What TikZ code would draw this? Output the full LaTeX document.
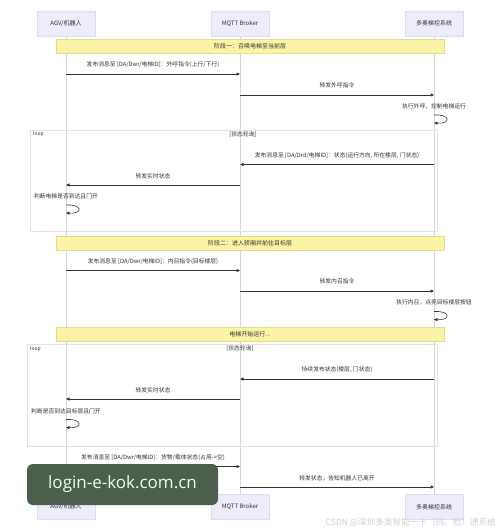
\documentclass[tikz,border=0pt]{standalone}
\usepackage{fontspec}
\newfontfamily\cjk{Noto Sans CJK SC}
\usetikzlibrary{arrows.meta}
\definecolor{txt}{HTML}{333333}
\definecolor{life}{HTML}{D6D6D6}
\definecolor{actfill}{HTML}{ECECFB}
\definecolor{actline}{HTML}{DCDCF2}
\definecolor{notefill}{HTML}{FBF4A6}
\definecolor{noteline}{HTML}{E6DE86}
\definecolor{loopline}{HTML}{E2E2E2}
\definecolor{wmfill}{HTML}{4C5F4C}
\tikzset{
  actor/.style={draw=actline,fill=actfill,minimum width=58pt,minimum height=25pt,inner sep=0pt,font=\cjk\fontsize{6}{7}\selectfont,text=txt},
  notebox/.style={draw=noteline,fill=notefill,minimum width=388pt,minimum height=14pt,inner sep=0pt,font=\cjk\fontsize{6}{7}\selectfont,text=txt},
  lbl/.style={font=\cjk\fontsize{5.8}{7}\selectfont,text=txt,inner sep=0pt},
  msg/.style={draw=txt,line width=0.6pt,-{Triangle[length=3.5pt,width=3pt]}},
  lifeline/.style={draw=life,line width=0.5pt},
  loopbox/.style={draw=loopline,line width=0.5pt},
}
\begin{document}
\begin{tikzpicture}[x=1pt,y=-1pt]
\useasboundingbox[fill=white] (0,0) rectangle (500,531);
% actors
\node[actor] (agvT) at (66,23.5) {AGV/机器人};
\node[actor] (brkT) at (240,23.5) {MQTT Broker};
\node[actor] (sysT) at (434,23.5) {多奥梯控系统};
\node[actor] (agvB) at (66,507) {AGV/机器人};
\node[actor] (brkB) at (240,507) {MQTT Broker};
\node[actor] (sysB) at (434,507) {多奥梯控系统};
% lifelines
\begin{scope}[on background layer/.style={}]
\draw[lifeline] (agvT) -- (agvB);
\draw[lifeline] (brkT) -- (brkB);
\draw[lifeline] (sysT) -- (sysB);
\end{scope}
% loop boxes
\draw[loopbox] (30,130) rectangle (437,231);
\node[lbl,font=\cjk\fontsize{5}{6}\selectfont,anchor=west] (lp1) at (33,134) {loop};
\node[lbl] (lc1) at (243,135) {[状态轮询]};
\draw[loopbox] (27,344) rectangle (437,446);
\node[lbl,font=\cjk\fontsize{5}{6}\selectfont,anchor=west] (lp2) at (30,349) {loop};
\node[lbl] (lc2) at (240,349) {[状态轮询]};
% notes
\node[notebox] (n1) at (250,46) {阶段一：召唤电梯至当前层};
\node[notebox] (n2) at (250,243) {阶段二：进入轿厢并前往目标层};
\node[notebox] (n3) at (250,334) {电梯开始运行...};
% messages
\node[lbl] (t1) at (153,65) {发布消息至 [DA/Dwr/电梯ID]：外呼指令(上行/下行)};
\draw[msg] (agvT |- 0,74) -- (brkT |- 0,74);
\node[lbl] (t2) at (337,85.5) {转发外呼指令};
\draw[msg] (brkT |- 0,95) -- (sysT |- 0,95);
\node[lbl] (t3) at (434,106) {执行外呼，控制电梯运行};
\coordinate (s1a) at (434,115); \coordinate (s1b) at (434,123);
\draw[msg] (s1a) .. controls +(17,-1) and +(17,1) .. (s1b);
\node[lbl] (t4) at (337,155.5) {发布消息至 [DA/Drd/电梯ID]：状态(运行方向, 所在楼层, 门状态)};
\draw[msg] (sysT |- 0,164.5) -- (brkT |- 0,164.5);
\node[lbl] (t5) at (153,176) {转发实时状态};
\draw[msg] (brkT |- 0,185) -- (agvT |- 0,185);
\node[lbl] (t6) at (66,196) {判断电梯是否到达且门开};
\coordinate (s2a) at (66,205); \coordinate (s2b) at (66,213);
\draw[msg] (s2a) .. controls +(17,-1) and +(17,1) .. (s2b);
\node[lbl] (t7) at (153,261.5) {发布消息至 [DA/Dwr/电梯ID]：内召指令(目标楼层)};
\draw[msg] (agvT |- 0,270.5) -- (brkT |- 0,270.5);
\node[lbl] (t8) at (337,281.5) {转发内召指令};
\draw[msg] (brkT |- 0,291) -- (sysT |- 0,291);
\node[lbl] (t9) at (434,302) {执行内召，点亮目标楼层按钮};
\coordinate (s3a) at (434,311.5); \coordinate (s3b) at (434,319.5);
\draw[msg] (s3a) .. controls +(17,-1) and +(17,1) .. (s3b);
\node[lbl] (t10) at (337,369.5) {持续发布状态(楼层, 门状态)};
\draw[msg] (sysT |- 0,379) -- (brkT |- 0,379);
\node[lbl] (t11) at (153,390) {转发实时状态};
\draw[msg] (brkT |- 0,399) -- (agvT |- 0,399);
\node[lbl] (t12) at (66,411) {判断是否到达目标层且门开};
\coordinate (s4a) at (66,419.5); \coordinate (s4b) at (66,427.5);
\draw[msg] (s4a) .. controls +(17,-1) and +(17,1) .. (s4b);
\node[lbl] (t13) at (153,457.5) {发布消息至 [DA/Dwr/电梯ID]：货物/载体状态(占用->空)};
\draw[msg] (agvT |- 0,466.5) -- (brkT |- 0,466.5);
\node[lbl] (t14) at (337,478) {转发状态，告知机器人已离开};
\draw[msg] (brkT |- 0,487) -- (sysT |- 0,487);
% watermarks
\node[fill=wmfill,rounded corners=6pt,minimum width=191pt,minimum height=41pt,inner sep=0pt,text=white!92!green,font=\fontspec{Open Sans}\fontsize{17}{20}\selectfont] (wm) at (122.5,484.5) {login-e-kok.com.cn};
\node[lbl,text=black!18,font=\cjk\fontsize{8.6}{10}\selectfont,anchor=east] (csdn) at (496,523) {CSDN @深圳多奥智能一卡（码、脸）通系统};
\end{tikzpicture}
\end{document}
